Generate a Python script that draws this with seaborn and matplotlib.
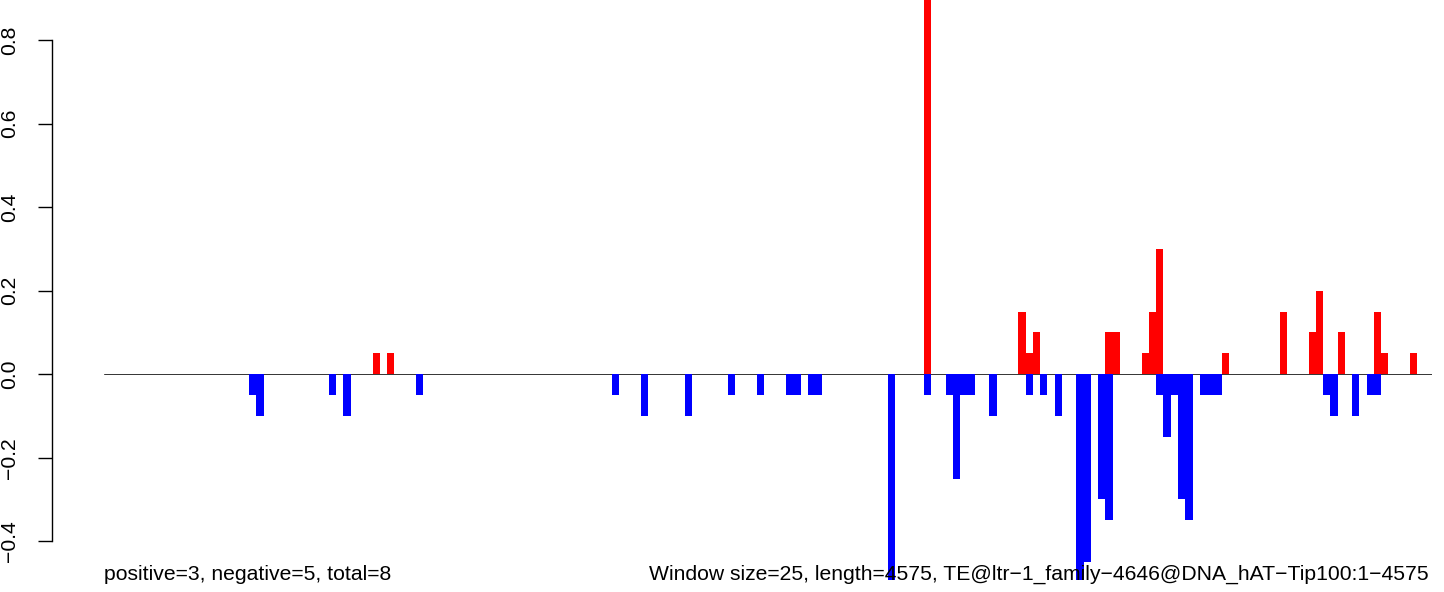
import numpy as np
import pandas as pd
import matplotlib
matplotlib.use("Agg")
import matplotlib.pyplot as plt
import seaborn as sns

# ---- data ----
window_size = 25
seq_length = 4575
n_windows = seq_length // window_size  # 183

pos_windows = [37, 39, 113, 126, 127, 128, 138, 139, 143, 144, 145, 154,
               162, 166, 167, 170, 175, 176, 180]
pos_values = [0.05, 0.05, 0.95, 0.15, 0.05, 0.10, 0.10, 0.10, 0.05, 0.15,
              0.30, 0.05, 0.15, 0.10, 0.20, 0.10, 0.15, 0.05, 0.05]

neg_windows = [20, 21, 31, 33, 43, 70, 74, 80, 86, 90, 94, 95, 97, 98,
               108, 113, 116, 117, 118, 119, 122, 127, 129, 131, 134, 135,
               137, 138, 145, 146, 147, 148, 149, 151, 152, 153, 168, 169,
               172, 174, 175]
neg_values = [-0.05, -0.10, -0.05, -0.10, -0.05, -0.05, -0.10, -0.10, -0.05,
              -0.05, -0.05, -0.05, -0.05, -0.05, -0.50, -0.05, -0.05, -0.25,
              -0.05, -0.05, -0.10, -0.05, -0.05, -0.10, -0.50, -0.45, -0.30,
              -0.35, -0.05, -0.15, -0.05, -0.30, -0.35, -0.05, -0.05, -0.05,
              -0.05, -0.10, -0.10, -0.05, -0.05]

yticks = [-0.4, -0.2, 0.0, 0.2, 0.4, 0.6, 0.8]
left_text = "positive=3, negative=5, total=8"
right_text = ("Window size=25, length=4575, "
              "TE@ltr\u22121_family\u22124646@DNA_hAT\u2212Tip100:1\u22124575")

# ---- build table ----
idx = np.arange(n_windows)
pos_full = np.zeros(n_windows)
pos_full[pos_windows] = pos_values
neg_full = np.zeros(n_windows)
neg_full[neg_windows] = neg_values
df = pd.concat([
    pd.DataFrame({"window": idx, "value": pos_full, "sign": "pos"}),
    pd.DataFrame({"window": idx, "value": neg_full, "sign": "neg"}),
], ignore_index=True)

# ---- figure ----
sns.set_style("white")
plt.rcParams["font.family"] = ["Liberation Sans", "DejaVu Sans"]
W, H, DPI = 1444, 592, 100
fig = plt.figure(figsize=(W / DPI, H / DPI), dpi=DPI)
ax_left_px, ax_right_px = 52, 1432
ax_bottom_px = 580
ax = fig.add_axes([ax_left_px / W, (H - ax_bottom_px) / H,
                   (ax_right_px - ax_left_px) / W, ax_bottom_px / H])

sns.barplot(data=df, x="window", y="value", hue="sign",
            order=list(idx), hue_order=["pos", "neg"],
            palette={"pos": "#FF0000", "neg": "#0000FF"},
            dodge=False, width=1.0, saturation=1.0, errorbar=None,
            edgecolor="none", linewidth=0, legend=False, ax=ax, zorder=3)

# zero line across the windows
ax.plot([-0.5, n_windows - 0.5], [0, 0], color="#333333", lw=0.7, zorder=2)

# x range: bars start 52 px right of axis line
px_per_bar = (ax_right_px - 104) / n_windows
ax.set_xlim(-0.5 - (104 - ax_left_px) / px_per_bar, n_windows - 0.5)
ax.set_ylim(-0.493, 0.896)

for s in ["top", "right", "bottom"]:
    ax.spines[s].set_visible(False)
ax.spines["left"].set_bounds(-0.4, 0.8)
ax.spines["left"].set_linewidth(1.0)
ax.spines["left"].set_color("black")
ax.set_xticks([])
ax.set_yticks(yticks)
ax.set_yticklabels([f"{v:.1f}".replace("-", "\u2212") for v in yticks],
                   rotation=90, va="center")
ax.tick_params(axis="y", length=10, width=1.0, pad=14, labelsize=15.2,
               colors="black", left=True)
ax.set_xlabel("")
ax.set_ylabel("")
ax.patch.set_alpha(0)

fig.text(104 / W, (H - 580) / H, left_text, ha="left", va="baseline",
         fontsize=15.2, color="black", zorder=1)
fig.text(1429 / W, (H - 580) / H, right_text, ha="right", va="baseline",
         fontsize=15.2, color="black", zorder=1)

fig.savefig("out.png", dpi=DPI, facecolor="white")
